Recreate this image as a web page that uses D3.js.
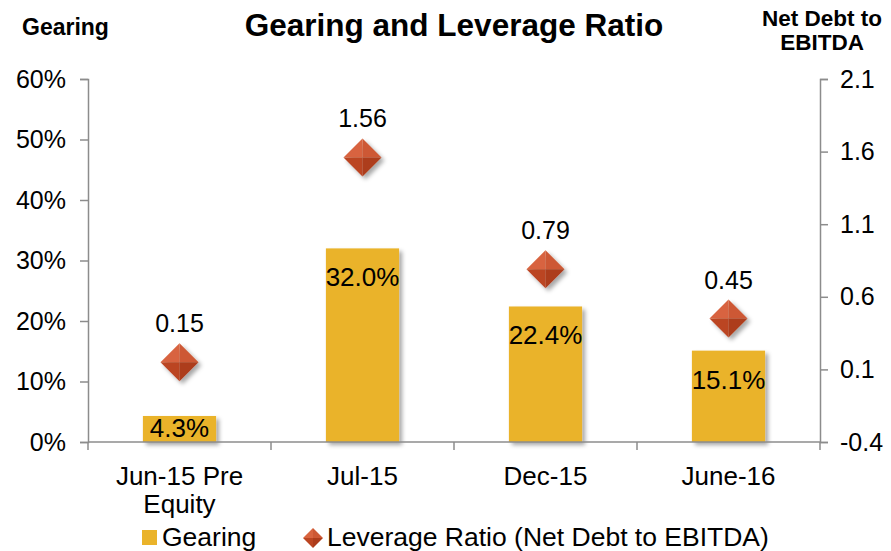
<!DOCTYPE html>
<html>
<head>
<meta charset="utf-8">
<script src="https://cdn.jsdelivr.net/npm/d3@7"></script>
<style>
  body { margin: 0; background: #fff; }
  text { font-family: "Liberation Sans", Arial, sans-serif; fill: #000; }
</style>
</head>
<body>
<div id="chart"></div>
<script>
const categories = [["Jun-15 Pre", "Equity"], ["Jul-15"], ["Dec-15"], ["June-16"]];
const gearing = [0.043, 0.32, 0.224, 0.151];
const gearingLabels = ["4.3%", "32.0%", "22.4%", "15.1%"];
const leverage = [0.15, 1.56, 0.79, 0.45];
const leftTicks = [0, 0.1, 0.2, 0.3, 0.4, 0.5, 0.6];
const rightTicks = [-0.4, 0.1, 0.6, 1.1, 1.6, 2.1];

const width = 891, height = 551;
const margin = { top: 79, right: 71, bottom: 109, left: 88 };

const svg = d3.select("#chart").append("svg")
    .attr("width", width)
    .attr("height", height);

const defs = svg.append("defs");
const shadow = defs.append("filter").attr("id", "shadow")
    .attr("x", "-30%").attr("y", "-30%").attr("width", "160%").attr("height", "160%");
shadow.append("feDropShadow")
    .attr("dx", 3).attr("dy", 3).attr("stdDeviation", 2)
    .attr("flood-color", "#000").attr("flood-opacity", 0.35);

const x = d3.scaleBand()
    .domain(d3.range(categories.length))
    .range([margin.left, width - margin.right])
    .paddingInner(0.6)
    .paddingOuter(0.3);

const yL = d3.scaleLinear().domain([0, 0.6]).range([height - margin.bottom, margin.top]);
const yR = d3.scaleLinear().domain([-0.4, 2.1]).range([height - margin.bottom, margin.top]);

const axisColor = "#8c8c8c";
const fmtR = d => d3.format(".1f")(d).replace("\u2212", "-");

// bars
svg.append("g").selectAll("rect")
    .data(gearing)
    .enter()
    .append("rect")
    .attr("x", (d, i) => x(i))
    .attr("y", d => yL(d))
    .attr("width", x.bandwidth())
    .attr("height", d => yL(0) - yL(d))
    .attr("fill", "#eab32a")
    .attr("filter", "url(#shadow)");

// axes
const leftAxis = svg.append("g")
    .attr("transform", `translate(${margin.left},0)`)
    .call(d3.axisLeft(yL).tickValues(leftTicks).tickFormat(d3.format(".0%")).tickSize(8).tickPadding(14));

const rightAxis = svg.append("g")
    .attr("transform", `translate(${width - margin.right},0)`)
    .call(d3.axisRight(yR).tickValues(rightTicks).tickFormat(fmtR).tickSize(8).tickPadding(12));

[leftAxis, rightAxis].forEach(a => {
    a.select(".domain").attr("stroke", axisColor).attr("stroke-width", 1.5);
    a.selectAll(".tick line").attr("stroke", axisColor).attr("stroke-width", 1.5);
    a.selectAll(".tick text").style("font-size", "25px").attr("fill", "#000");
});

// baseline and category separator ticks
const bottomY = yL(0);
svg.append("line")
    .attr("x1", margin.left).attr("x2", width - margin.right)
    .attr("y1", bottomY).attr("y2", bottomY)
    .attr("stroke", axisColor).attr("stroke-width", 1.5);

const step = x.step();
const sepX = d3.range(categories.length + 1).map(i => margin.left + i * step);
svg.append("g").selectAll("line")
    .data(sepX)
    .enter()
    .append("line")
    .attr("x1", d => d).attr("x2", d => d)
    .attr("y1", bottomY).attr("y2", bottomY + 8)
    .attr("stroke", axisColor).attr("stroke-width", 1.5);

// category labels
const catLabels = svg.append("g").selectAll("text")
    .data(categories)
    .enter()
    .append("text")
    .attr("x", (d, i) => x(i) + x.bandwidth() / 2)
    .attr("y", bottomY + 43)
    .attr("text-anchor", "middle")
    .style("font-size", "26px");
catLabels.selectAll("tspan")
    .data((d, i) => d.map(t => ({ t, i })))
    .enter()
    .append("tspan")
    .attr("x", d => x(d.i) + x.bandwidth() / 2)
    .attr("dy", (d, j) => j === 0 ? 0 : 28)
    .text(d => d.t);

// bar labels
svg.append("g").selectAll("text")
    .data(gearing)
    .enter()
    .append("text")
    .attr("x", (d, i) => x(i) + x.bandwidth() / 2)
    .attr("y", d => Math.min(yL(d) + 38, bottomY - 5))
    .attr("text-anchor", "middle")
    .style("font-size", "26px")
    .text((d, i) => gearingLabels[i]);

// diamond marker
function diamond(g, r) {
    g.append("path").attr("d", `M0,${-r}L${-r},0L0,0Z`).attr("fill", "#d8643f");
    g.append("path").attr("d", `M0,${-r}L${r},0L0,0Z`).attr("fill", "#cd5834");
    g.append("path").attr("d", `M${-r},0L0,${r}L0,0Z`).attr("fill", "#bb4521");
    g.append("path").attr("d", `M${r},0L0,${r}L0,0Z`).attr("fill", "#ad3c1b");
}

const markers = svg.append("g").selectAll("g")
    .data(leverage)
    .enter()
    .append("g")
    .attr("transform", (d, i) => `translate(${x(i) + x.bandwidth() / 2},${yR(d)})`)
    .attr("filter", "url(#shadow)");
markers.each(function () { diamond(d3.select(this), 19); });

svg.append("g").selectAll("text")
    .data(leverage)
    .enter()
    .append("text")
    .attr("x", (d, i) => x(i) + x.bandwidth() / 2)
    .attr("y", d => yR(d) - 30)
    .attr("text-anchor", "middle")
    .style("font-size", "25px")
    .text(d => d3.format(".2f")(d));

// titles
svg.append("text")
    .attr("x", 454).attr("y", 36)
    .attr("text-anchor", "middle")
    .style("font-size", "31.5px").style("font-weight", "bold")
    .text("Gearing and Leverage Ratio");

svg.append("text")
    .attr("x", 22).attr("y", 35)
    .style("font-size", "23px").style("font-weight", "bold")
    .text("Gearing");

const rt = svg.append("text")
    .attr("text-anchor", "middle")
    .style("font-size", "22.5px").style("font-weight", "bold");
rt.append("tspan").attr("x", 822).attr("y", 26).text("Net Debt to");
rt.append("tspan").attr("x", 822).attr("y", 50).text("EBITDA");

// legend
const legend = svg.append("g").attr("transform", "translate(142, 538)");
legend.append("rect")
    .attr("x", 0).attr("y", -8).attr("width", 15).attr("height", 15)
    .attr("fill", "#eab32a");
legend.append("text")
    .attr("x", 20).attr("y", 8)
    .style("font-size", "26.5px")
    .text("Gearing");
const lg = legend.append("g").attr("transform", "translate(171, 0)");
diamond(lg, 10);
legend.append("text")
    .attr("x", 185).attr("y", 8)
    .style("font-size", "26.5px")
    .text("Leverage Ratio (Net Debt to EBITDA)");
</script>
</body>
</html>
